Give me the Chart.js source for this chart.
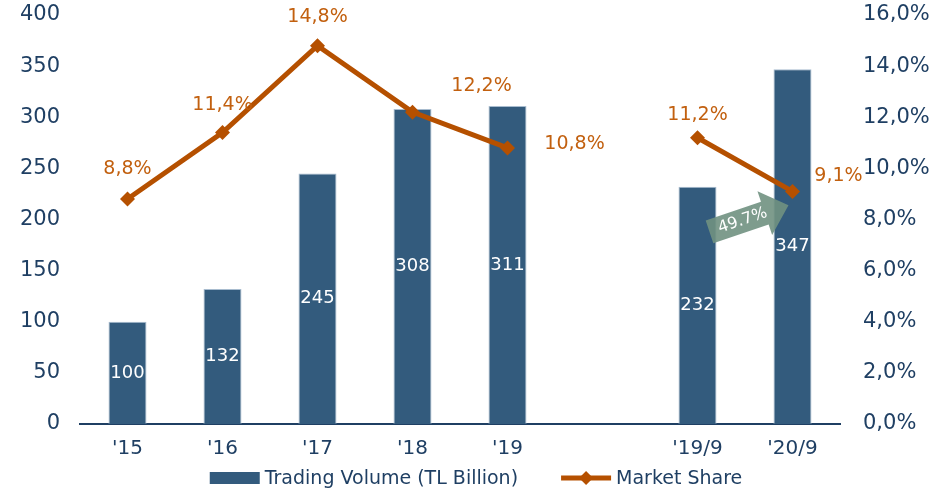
<!DOCTYPE html>
<html>
<head>
<meta charset="utf-8">
<script src="https://cdn.jsdelivr.net/npm/chart.js@4"></script>
<style>
  html, body { margin: 0; padding: 0; background: #fff; }
  #wrap { width: 952px; height: 492px; }
</style>
</head>
<body>
<div id="wrap"><canvas id="chart"></canvas></div>
<script>
const categories = ["'15", "'16", "'17", "'18", "'19", "", "'19/9", "'20/9"];
const tradingVolume = [100, 132, 245, 308, 311, null, 232, 347];
const marketShare = [8.8, 11.4, 14.8, 12.2, 10.8, null, 11.2, 9.1];
const volumeTicks = [0, 400, 50];
const shareTicks = [0, 16, 2];
const growthLabel = '49.7%';

// where each market share label sits relative to its point (px)
const shareLabelOffset = [[0, -30], [0, -28], [0, -29], [69, -26], [67, -4], [0, -23], [46, -15]];

const navy = '#1f3f63';
const barColor = '#335b7d';
const lineColor = '#b55000';
const labelOrange = '#c2600f';
const font = 'DejaVu Sans';

const fmtPct = v => v.toFixed(1).replace('.', ',') + '%';

const valueLabels = {
  id: 'valueLabels',
  afterDatasetsDraw(chart) {
    const ctx = chart.ctx;
    ctx.save();
    ctx.textAlign = 'center';
    ctx.textBaseline = 'middle';
    ctx.font = '18px "' + font + '"';
    chart.getDatasetMeta(0).data.forEach((bar, i) => {
      if (tradingVolume[i] == null) return;
      ctx.fillStyle = '#ffffff';
      ctx.fillText(String(tradingVolume[i]), bar.x, (bar.y + bar.base) / 2);
    });
    ctx.font = '19px "' + font + '"';
    let k = 0;
    chart.getDatasetMeta(1).data.forEach((pt, i) => {
      if (marketShare[i] == null) return;
      const off = shareLabelOffset[k++];
      ctx.fillStyle = labelOrange;
      ctx.fillText(fmtPct(marketShare[i]), pt.x + off[0], pt.y + off[1]);
    });
    ctx.restore();
  }
};

const growthArrow = {
  id: 'growthArrow',
  afterDatasetsDraw(chart) {
    const x = chart.scales.x, y = chart.scales.y;
    const x0 = x.getPixelForValue(6) + 12, y0 = y.getPixelForValue(188);
    const x1 = x.getPixelForValue(7) - 4, y1 = y.getPixelForValue(214);
    const L = Math.hypot(x1 - x0, y1 - y0);
    const ang = Math.atan2(y1 - y0, x1 - x0);
    const ctx = chart.ctx;
    ctx.save();
    ctx.translate(x0, y0);
    ctx.rotate(ang);
    const hl = 25, bw = 12, hw = 23;
    ctx.fillStyle = 'rgba(112,145,129,0.9)';
    ctx.beginPath();
    ctx.moveTo(0, -bw); ctx.lineTo(L - hl, -bw); ctx.lineTo(L - hl, -hw);
    ctx.lineTo(L, 0); ctx.lineTo(L - hl, hw); ctx.lineTo(L - hl, bw);
    ctx.lineTo(0, bw); ctx.closePath(); ctx.fill();
    ctx.fillStyle = '#ffffff';
    ctx.font = '16px "' + font + '"';
    ctx.textAlign = 'center';
    ctx.textBaseline = 'middle';
    ctx.fillText(growthLabel, 35, 0);
    ctx.restore();
  }
};

// legend drawn by hand: wide bar swatch, line swatch with a diamond
const bottomLegend = {
  id: 'bottomLegend',
  afterDraw(chart) {
    const ctx = chart.ctx;
    const cy = chart.height - 14;
    ctx.save();
    ctx.font = '19px "' + font + '"';
    ctx.textBaseline = 'middle';
    ctx.textAlign = 'left';
    const names = chart.data.datasets.map(d => d.label);
    const sw = 50, gapText = 5, gapItem = 43;
    const total = names.reduce((s, n) => s + sw + gapText + ctx.measureText(n).width, 0) + gapItem;
    let x = (chart.width - total) / 2;
    names.forEach((n, i) => {
      if (i === 0) {
        ctx.fillStyle = barColor;
        ctx.fillRect(x, cy - 6, sw, 12);
      } else {
        ctx.strokeStyle = lineColor;
        ctx.lineWidth = 5;
        ctx.beginPath(); ctx.moveTo(x, cy); ctx.lineTo(x + sw, cy); ctx.stroke();
        ctx.fillStyle = lineColor;
        const m = x + sw / 2;
        ctx.beginPath(); ctx.moveTo(m, cy - 7); ctx.lineTo(m + 7, cy); ctx.lineTo(m, cy + 7); ctx.lineTo(m - 7, cy); ctx.closePath(); ctx.fill();
      }
      x += sw + gapText;
      ctx.fillStyle = navy;
      ctx.fillText(n, x, cy + 1);
      x += ctx.measureText(n).width + gapItem;
    });
    ctx.restore();
  }
};

Chart.defaults.font.family = font;
Chart.defaults.color = navy;

new Chart(document.getElementById('chart'), {
  type: 'bar',
  data: {
    labels: categories,
    datasets: [
      {
        type: 'bar',
        label: 'Trading Volume (TL Billion)',
        data: tradingVolume,
        backgroundColor: barColor,
        borderColor: '#a8bccf',
        borderWidth: 1,
        categoryPercentage: 0.8,
        barPercentage: 0.5,
        yAxisID: 'y',
        order: 2
      },
      {
        type: 'line',
        label: 'Market Share',
        data: marketShare,
        borderColor: lineColor,
        backgroundColor: lineColor,
        borderWidth: 5,
        pointStyle: 'rectRot',
        pointRadius: 7.5,
        pointHoverRadius: 7.5,
        pointBorderWidth: 0,
        spanGaps: false,
        yAxisID: 'y1',
        order: 1
      }
    ]
  },
  options: {
    responsive: true,
    maintainAspectRatio: false,
    animation: false,
    events: [],
    layout: { padding: { top: 15, left: 0, right: 0, bottom: 0 } },
    scales: {
      x: {
        grid: { display: false, drawTicks: false },
        border: { display: true, color: navy, width: 2 },
        ticks: { font: { size: 20 }, color: navy, padding: 13 },
        afterFit(s) { s.height = 68; s.paddingLeft = 0; s.paddingRight = 0; }
      },
      y: {
        position: 'left',
        min: volumeTicks[0], max: volumeTicks[1],
        grid: { display: false, drawTicks: false },
        border: { display: false },
        ticks: { stepSize: volumeTicks[2], font: { size: 21 }, color: navy, padding: 20 },
        afterFit(s) { s.width = 80; s.paddingTop = 0; s.paddingBottom = 0; }
      },
      y1: {
        position: 'right',
        min: shareTicks[0], max: shareTicks[1],
        grid: { display: false, drawTicks: false },
        border: { display: false },
        ticks: { stepSize: shareTicks[2], font: { size: 21 }, color: navy, padding: 23, callback: v => fmtPct(v) },
        afterFit(s) { s.width = 112; s.paddingTop = 0; s.paddingBottom = 0; }
      }
    },
    plugins: {
      tooltip: { enabled: false },
      legend: { display: false }
    }
  },
  plugins: [valueLabels, growthArrow, bottomLegend]
});
</script>
</body>
</html>
